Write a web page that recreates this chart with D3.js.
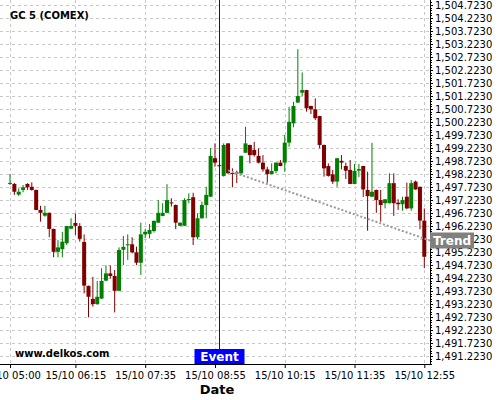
<!DOCTYPE html>
<html><head><meta charset="utf-8">
<script src="https://cdn.jsdelivr.net/npm/d3@7"></script>
<style>body{margin:0;background:#fff}svg{display:block;font-family:"DejaVu Sans",sans-serif}</style>
</head><body><svg id="c" width="500" height="400"></svg>
<script>
const title = "GC 5 (COMEX)";
const dateLabel = "15/10";
const times = [
"05:00","05:05","05:10","05:15","05:20","05:25","05:30","05:35","05:40","05:45","05:50","05:55",
"06:00","06:05","06:10","06:15","06:20","06:25","06:30","06:35","06:40","06:45","06:50","06:55",
"07:00","07:05","07:10","07:15","07:20","07:25","07:30","07:35","07:40","07:45","07:50","07:55",
"08:00","08:05","08:10","08:15","08:20","08:25","08:30","08:35","08:40","08:45","08:50","08:55",
"09:00","09:05","09:10","09:15","09:20","09:25","09:30","09:35","09:40","09:45","09:50","09:55",
"10:00","10:05","10:10","10:15","10:20","10:25","10:30","10:35","10:40","10:45","10:50","10:55",
"11:00","11:05","11:10","11:15","11:20","11:25","11:30","11:35","11:40","11:45","11:50","11:55",
"12:00","12:05","12:10","12:15","12:20","12:25","12:30","12:35","12:40","12:45","12:50","12:55"];
const open = [1497.86,1497.84,1497.43,1497.61,1497.84,1497.73,1497.61,1496.84,1496.62,1496.73,
1496.11,1495.23,1495.33,1495.56,1496.12,1496.34,1496.22,1495.61,1493.92,1493.42,
1493.22,1493.43,1494.12,1494.40,1494.30,1493.73,1495.31,1495.50,1495.52,1495.21,
1494.81,1495.90,1495.92,1496.03,1496.35,1496.61,1496.73,1497.13,1497.03,1496.23,
1496.23,1497.22,1497.33,1495.79,1496.52,1497.03,1497.35,1498.83,1498.56,1498.15,
1499.40,1498.26,1498.28,1498.25,1499.04,1499.34,1499.15,1498.92,1498.66,1498.40,
1498.22,1498.34,1498.66,1498.66,1499.43,1500.17,1500.97,1501.35,1501.45,1500.84,
1500.71,1500.45,1499.34,1498.53,1498.21,1497.93,1498.73,1498.53,1498.38,1497.84,
1498.35,1498.53,1497.61,1497.35,1497.61,1497.22,1497.10,1497.10,1497.87,1497.12,
1497.06,1497.35,1496.90,1497.93,1497.73,1496.43];
const high = [1498.22,1497.88,1497.67,1497.80,1497.87,1497.90,1497.62,1497.00,1497.00,1496.74,
1496.12,1495.68,1496.00,1496.23,1496.52,1496.71,1496.33,1495.90,1493.93,1494.27,
1494.11,1494.60,1494.71,1494.71,1494.53,1495.40,1495.84,1495.90,1495.79,1495.43,
1496.35,1496.10,1496.30,1496.43,1497.22,1497.10,1497.83,1497.29,1497.05,1496.36,
1497.29,1497.48,1497.50,1496.71,1497.16,1497.73,1499.22,1499.40,1498.60,1499.40,
1499.41,1498.44,1498.35,1498.93,1500.04,1499.35,1499.46,1499.21,1498.95,1498.50,
1498.63,1498.67,1498.76,1499.72,1500.81,1501.00,1503.02,1502.13,1501.46,1500.85,
1501.13,1500.46,1499.35,1498.63,1498.38,1498.84,1498.95,1498.66,1498.76,1498.61,
1498.61,1498.54,1498.31,1499.42,1497.62,1497.61,1497.26,1498.25,1498.25,1497.25,
1497.35,1497.89,1497.99,1497.97,1497.74,1496.90];
const low = [1497.80,1497.42,1497.38,1497.52,1497.61,1497.58,1496.83,1496.39,1496.58,1495.79,
1495.02,1495.02,1495.02,1495.49,1496.11,1495.88,1495.62,1493.63,1492.71,1493.12,
1493.21,1493.42,1494.11,1494.20,1492.90,1493.72,1494.72,1494.92,1495.17,1494.72,
1494.34,1495.75,1495.75,1495.97,1496.34,1496.60,1496.71,1496.97,1496.10,1496.22,
1496.22,1497.10,1495.49,1495.71,1496.51,1496.52,1497.34,1498.50,1498.49,1498.12,
1498.24,1497.71,1497.87,1498.18,1499.03,1498.63,1498.89,1498.63,1498.31,1497.89,
1498.21,1498.25,1498.52,1498.31,1499.27,1500.02,1500.96,1501.22,1500.62,1500.53,
1500.30,1499.21,1498.12,1498.12,1497.84,1497.73,1498.40,1498.03,1497.83,1497.83,
1498.11,1497.34,1496.04,1497.34,1496.73,1496.39,1496.90,1497.09,1496.61,1496.84,
1496.81,1496.87,1496.81,1497.62,1496.10,1494.60];
const close = [1497.88,1497.54,1497.54,1497.71,1497.71,1497.61,1496.84,1496.73,1496.73,1496.11,
1495.23,1495.40,1495.62,1496.22,1496.22,1496.23,1495.73,1493.93,1493.50,1493.22,
1493.50,1494.11,1494.40,1494.30,1493.73,1495.30,1495.42,1495.52,1495.21,1494.81,
1495.90,1496.00,1496.07,1496.42,1496.73,1496.73,1497.22,1497.12,1496.35,1496.35,
1497.22,1497.26,1495.79,1496.52,1497.03,1497.42,1498.92,1498.66,1498.54,1499.34,
1498.25,1498.25,1498.27,1498.92,1499.40,1498.95,1498.95,1498.66,1498.40,1498.22,
1498.34,1498.66,1498.53,1499.43,1500.23,1500.84,1501.22,1501.45,1500.75,1500.71,
1500.37,1499.34,1498.44,1498.15,1497.93,1498.83,1498.66,1498.35,1497.84,1498.34,
1498.41,1497.63,1497.37,1497.54,1497.22,1497.03,1497.25,1497.87,1497.10,1497.06,
1497.22,1496.90,1497.87,1497.63,1496.43,1495.04];
const yTicks = [1491.223,1491.723,1492.223,1492.723,1493.223,1493.723,1494.223,1494.723,1495.223,1495.723,
1496.223,1496.723,1497.223,1497.723,1498.223,1498.723,1499.223,1499.723,1500.223,1500.723,
1501.223,1501.723,1502.223,1502.723,1503.223,1503.723,1504.223,1504.723];
const xTicks = ["05:00","06:15","07:35","08:55","10:15","11:35","12:55"];
const eventTime = "09:00";
const eventLabel = "Event";
const trendTimes = ["09:10","13:01:32"];
const trendValues = [1498.36,1495.665];
const trendLabel = "Trend";
const watermark = "www.delkos.com";
const xTitle = "Date";

const parse = s => { const p = s.split(":").map(Number); return new Date(2023,9,15,p[0],p[1],p[2]||0); };
const W = 430, H = 364;
const svg = d3.select("#c");
const x = d3.scaleTime().domain([new Date(2023,9,15,4,48,32), new Date(2023,9,15,13,1,32)]).range([0, W]);
const y = d3.scaleLinear().domain([1490.915, 1504.915]).range([H, 0]);
const fmtNum = d3.format(",.4f");

svg.append("defs").append("clipPath").attr("id","clip").append("rect").attr("x",0).attr("y",0).attr("width",W).attr("height",H);

// grid
const grid = svg.append("g").attr("stroke","#c8c8c8").attr("stroke-dasharray","3,3").attr("stroke-width",1);
grid.selectAll("line.h").data(yTicks).join("line").attr("class","h")
  .attr("x1",0).attr("x2",W).attr("y1",d=>Math.round(y(d))+0.5).attr("y2",d=>Math.round(y(d))+0.5);
grid.selectAll("line.v").data(xTicks).join("line").attr("class","v")
  .attr("y1",0).attr("y2",H).attr("x1",d=>Math.round(x(parse(d)))+0.5).attr("x2",d=>Math.round(x(parse(d)))+0.5);

// candles
const data = times.map((t,i)=>({t:parse(t),o:open[i],h:high[i],l:low[i],c:close[i]}));
const plot = svg.append("g").attr("clip-path","url(#clip)");
const col = d => d.c >= d.o ? "#008000" : "#800000";
const cg = plot.selectAll("g.c").data(data).join("g").attr("class","c");
cg.append("line").attr("x1",d=>x(d.t)).attr("x2",d=>x(d.t)).attr("y1",d=>y(d.h)).attr("y2",d=>y(d.l))
  .attr("stroke",col).attr("stroke-width",1);
cg.append("rect").attr("x",d=>x(d.t)-2).attr("width",4)
  .attr("y",d=>y(Math.max(d.o,d.c))).attr("height",d=>Math.max(1,Math.abs(y(d.o)-y(d.c))))
  .attr("fill",col);

// trend line
plot.append("path").datum(trendTimes.map((t,i)=>[parse(t),trendValues[i]]))
  .attr("d", d3.line().x(d=>x(d[0])).y(d=>y(d[1])))
  .attr("fill","none").attr("stroke","#999").attr("stroke-width",2).attr("stroke-dasharray","2,2");

// event line
const ex = Math.round(x(parse(eventTime)))+0.5;
svg.append("line").attr("x1",ex).attr("x2",ex).attr("y1",0).attr("y2",H-15).attr("stroke","#0000ff").attr("stroke-width",1);
svg.append("rect").attr("x",ex-25).attr("y",H-15).attr("width",50).attr("height",15).attr("fill","#0000ff");
svg.append("text").attr("x",ex).attr("y",H-3).attr("text-anchor","middle").attr("fill","#fff")
  .attr("font-weight","bold").attr("font-size",12).text(eventLabel);

// axes
const yAxis = d3.axisRight(y).tickValues(yTicks).tickFormat(fmtNum).tickSize(3).tickPadding(2);
const ya = svg.append("g").attr("transform",`translate(${W},0)`).call(yAxis);
ya.select(".domain").remove();
ya.selectAll("text").attr("font-size",10).attr("font-family","DejaVu Sans").attr("fill","#000");
// minor y ticks
const minor = d3.range(0,140).map(k=>1490.923+k*0.1);
svg.append("g").attr("stroke","#000").selectAll("line").data(minor).join("line")
  .attr("x1",W).attr("x2",W+2).attr("y1",d=>Math.round(y(d))+0.5).attr("y2",d=>Math.round(y(d))+0.5);

const xAxis = d3.axisBottom(x).tickValues(xTicks.map(parse)).tickFormat(d=>dateLabel+" "+d3.timeFormat("%H:%M")(d)).tickSize(4).tickPadding(4);
const xa = svg.append("g").attr("transform",`translate(0,${H})`).call(xAxis);
xa.select(".domain").remove();
xa.selectAll("text").attr("font-size",10).attr("font-family","DejaVu Sans").attr("fill","#000");

svg.append("line").attr("x1",0).attr("x2",W+0.5).attr("y1",H+0.5).attr("y2",H+0.5).attr("stroke","#000");
svg.append("line").attr("x1",W+0.5).attr("x2",W+0.5).attr("y1",0).attr("y2",H+0.5).attr("stroke","#000");

// trend label
const ty = y(trendValues[1]);
svg.append("rect").attr("x",W).attr("y",ty-8).attr("width",44).attr("height",16).attr("fill","#808080");
svg.append("text").attr("x",W+22).attr("y",ty+4.5).attr("text-anchor","middle").attr("fill","#fff")
  .attr("font-weight","bold").attr("font-size",12).text(trendLabel);

// titles
svg.append("text").attr("x",10).attr("y",19).attr("font-weight","bold").attr("font-size",10).text(title);
svg.append("text").attr("x",15).attr("y",357).attr("font-weight","bold").attr("font-size",10).text(watermark);
svg.append("text").attr("x",217).attr("y",394).attr("text-anchor","middle").attr("font-weight","bold").attr("font-size",13).text(xTitle);
</script></body></html>
